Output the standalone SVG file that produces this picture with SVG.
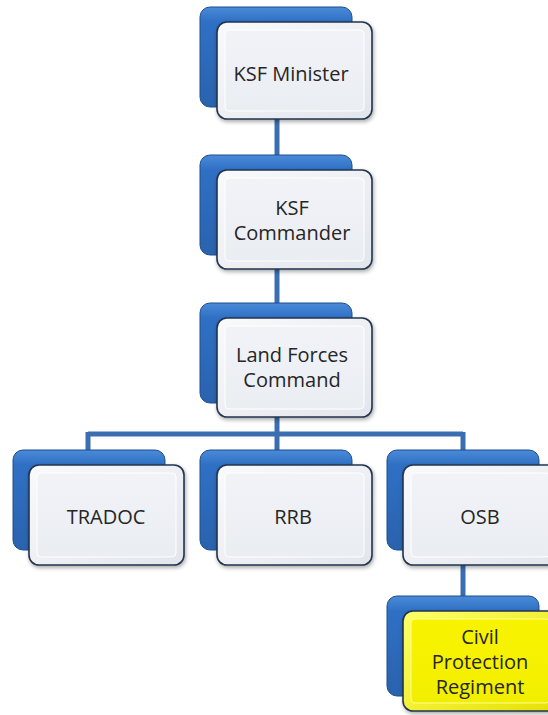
<svg xmlns="http://www.w3.org/2000/svg" width="548" height="715" viewBox="0 0 548 715">
<defs>
<linearGradient id="gBlue" x1="0" y1="0" x2="0" y2="1">
<stop offset="0" stop-color="#4a8ad8"/>
<stop offset="0.15" stop-color="#2f70c4"/>
<stop offset="1" stop-color="#2a62ad"/>
</linearGradient>
<linearGradient id="gWhite" x1="0" y1="0" x2="1" y2="1">
<stop offset="0" stop-color="#f9fafc"/>
<stop offset="1" stop-color="#e2e5eb"/>
</linearGradient>
<linearGradient id="gWhiteIn" x1="0" y1="0" x2="0" y2="1">
<stop offset="0" stop-color="#f1f3f7"/>
<stop offset="1" stop-color="#eaedf2"/>
</linearGradient>
<linearGradient id="gYellow" x1="0" y1="0" x2="1" y2="1">
<stop offset="0" stop-color="#ffff6a"/>
<stop offset="1" stop-color="#e6e000"/>
</linearGradient>
<linearGradient id="gYellowIn" x1="0" y1="0" x2="0" y2="1">
<stop offset="0" stop-color="#f8f400"/>
<stop offset="1" stop-color="#f2ee00"/>
</linearGradient>
<filter id="sh" x="-10%" y="-10%" width="130%" height="130%">
<feGaussianBlur in="SourceAlpha" stdDeviation="2"/>
<feOffset dx="1" dy="2" result="b"/>
<feComponentTransfer><feFuncA type="linear" slope="0.35"/></feComponentTransfer>
<feMerge><feMergeNode/><feMergeNode in="SourceGraphic"/></feMerge>
</filter>
</defs>
<style>
.back{fill:url(#gBlue);stroke:#1f4f8f;stroke-width:1;}
.front{fill:url(#gWhite);stroke:#24344f;stroke-width:1.6;}
.inner{fill:url(#gWhiteIn);stroke:#ffffff;stroke-width:1;}
.frontY{fill:url(#gYellow);stroke:#24344f;stroke-width:1.6;}
.innerY{fill:url(#gYellowIn);stroke:#ffff90;stroke-width:1;}
.conn{stroke:#3b6eb0;stroke-width:5;fill:none;stroke-linecap:butt;}
.lbl{font-family:"Open Sans","Liberation Sans",sans-serif;font-size:20px;fill:#262626;text-anchor:middle;}
</style>
<rect width="548" height="715" fill="#ffffff"/>
<g id="connectors">
<path class="conn" d="M277 100 V160"/>
<path class="conn" d="M277 250 V310"/>
<path class="conn" d="M277 400 V434"/>
<path class="conn" d="M88 434 H463"/>
<path class="conn" d="M88 432 V455"/>
<path class="conn" d="M277 432 V455"/>
<path class="conn" d="M463 432 V455"/>
<path class="conn" d="M463 545 V600"/>
</g>
<g id="ksf-minister">
<rect class="back" x="200" y="7" width="152" height="100" rx="10"/>
<rect class="front" x="217" y="22" width="155" height="97" rx="10" filter="url(#sh)"/>
<rect class="inner" x="225" y="30" width="139" height="81" rx="4"/>
<text class="lbl" x="291" y="81">KSF Minister</text>
</g>
<g id="ksf-commander">
<rect class="back" x="200" y="155" width="152" height="100" rx="10"/>
<rect class="front" x="217" y="170" width="155" height="99" rx="10" filter="url(#sh)"/>
<rect class="inner" x="225" y="178" width="139" height="83" rx="4"/>
<text class="lbl" x="292" y="215">KSF</text>
<text class="lbl" x="292" y="240">Commander</text>
</g>
<g id="land-forces-command">
<rect class="back" x="200" y="303" width="152" height="100" rx="10"/>
<rect class="front" x="217" y="318" width="155" height="99" rx="10" filter="url(#sh)"/>
<rect class="inner" x="225" y="326" width="139" height="83" rx="4"/>
<text class="lbl" x="292" y="362">Land Forces</text>
<text class="lbl" x="292" y="387">Command</text>
</g>
<g id="tradoc">
<rect class="back" x="13" y="450" width="152" height="100" rx="10"/>
<rect class="front" x="29" y="465" width="155" height="100" rx="10" filter="url(#sh)"/>
<rect class="inner" x="37" y="473" width="139" height="84" rx="4"/>
<text class="lbl" x="106" y="524">TRADOC</text>
</g>
<g id="rrb">
<rect class="back" x="200" y="450" width="152" height="100" rx="10"/>
<rect class="front" x="217" y="465" width="155" height="100" rx="10" filter="url(#sh)"/>
<rect class="inner" x="225" y="473" width="139" height="84" rx="4"/>
<text class="lbl" x="293" y="524">RRB</text>
</g>
<g id="osb">
<rect class="back" x="387" y="450" width="152" height="100" rx="10"/>
<rect class="front" x="403" y="465" width="155" height="100" rx="10" filter="url(#sh)"/>
<rect class="inner" x="411" y="473" width="139" height="84" rx="4"/>
<text class="lbl" x="480" y="524">OSB</text>
</g>
<g id="civil-protection-regiment">
<rect class="back" x="387" y="596" width="152" height="100" rx="10"/>
<rect class="frontY" x="403" y="611" width="155" height="100" rx="10" filter="url(#sh)"/>
<rect class="innerY" x="411" y="619" width="139" height="84" rx="4"/>
<text class="lbl" x="480" y="644">Civil</text>
<text class="lbl" x="480" y="669">Protection</text>
<text class="lbl" x="480" y="694">Regiment</text>
</g>
</svg>
